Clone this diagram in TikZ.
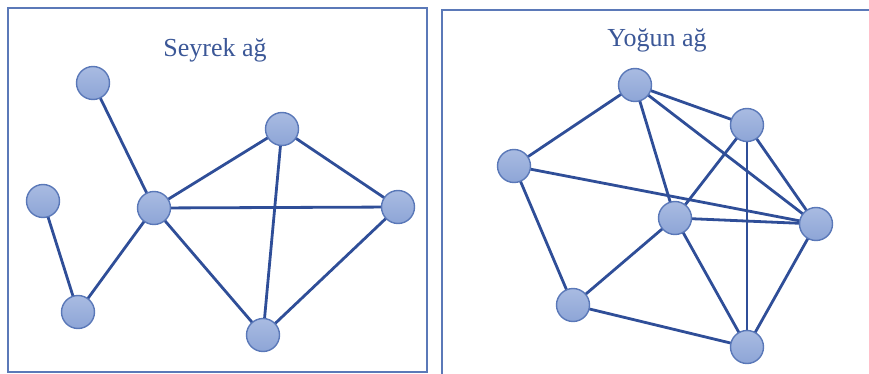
\documentclass[tikz,border=0pt]{standalone}
\usepackage{fontspec}
\setmainfont{Liberation Serif}
\usepackage{xcolor}
\usetikzlibrary{backgrounds}
\definecolor{netLine}{HTML}{2F4E98}
\definecolor{netFill}{HTML}{93AADA}
\definecolor{netRim}{HTML}{5A78B8}
\definecolor{netFrame}{HTML}{5B79B8}
\definecolor{netText}{HTML}{3B5797}
\tikzset{
  vertex/.style={circle,draw=netRim,line width=1.4pt,top color=netFill!80!white,
    bottom color=netFill!90!netRim,minimum size=33pt,inner sep=0pt},
  edge/.style={draw=netLine,line width=2.8pt},
  frame/.style={draw=netFrame,line width=2.4pt},
  caption/.style={font=\fontsize{26}{28}\selectfont,text=netText}
}
\begin{document}
\begin{tikzpicture}[x=1pt,y=-1pt]
\useasboundingbox (0,0) rectangle (869,374);
% frames
\draw[frame] (8,8) rectangle (427,372);
\draw[frame] (442,374) -- (442,10) -- (869,10);

% sparse graph
\node[caption] (sparseTitle) at (215,50) {Seyrek ağ};
\node[vertex] (s1) at (93,83) {};
\node[vertex] (s2) at (43,201) {};
\node[vertex] (s3) at (154,208) {};
\node[vertex] (s4) at (78,312) {};
\node[vertex] (s5) at (282,129) {};
\node[vertex] (s6) at (398,207) {};
\node[vertex] (s7) at (263,335) {};

% dense graph
\node[caption] (denseTitle) at (657,40) {Yoğun ağ};
\node[vertex] (d1) at (635,85) {};
\node[vertex] (d2) at (747,125) {};
\node[vertex] (d3) at (514,166) {};
\node[vertex] (d4) at (675,218) {};
\node[vertex] (d5) at (816,224) {};
\node[vertex] (d6) at (573,305) {};
\node[vertex] (d7) at (747,347) {};

\begin{pgfonlayer}{background}
\foreach \a/\b in {s1/s3,s2/s4,s4/s3,s3/s5,s3/s6,s3/s7,s5/s6,s5/s7,s6/s7,
  d3/d1,d1/d2,d1/d5,d1/d4,d3/d5,d3/d6,d4/d2,d4/d5,d4/d6,d4/d7,d2/d5,d2/d7,d5/d7,d6/d7}
  \draw[edge] (\a.center) -- (\b.center);
\end{pgfonlayer}
\end{tikzpicture}
\end{document}
